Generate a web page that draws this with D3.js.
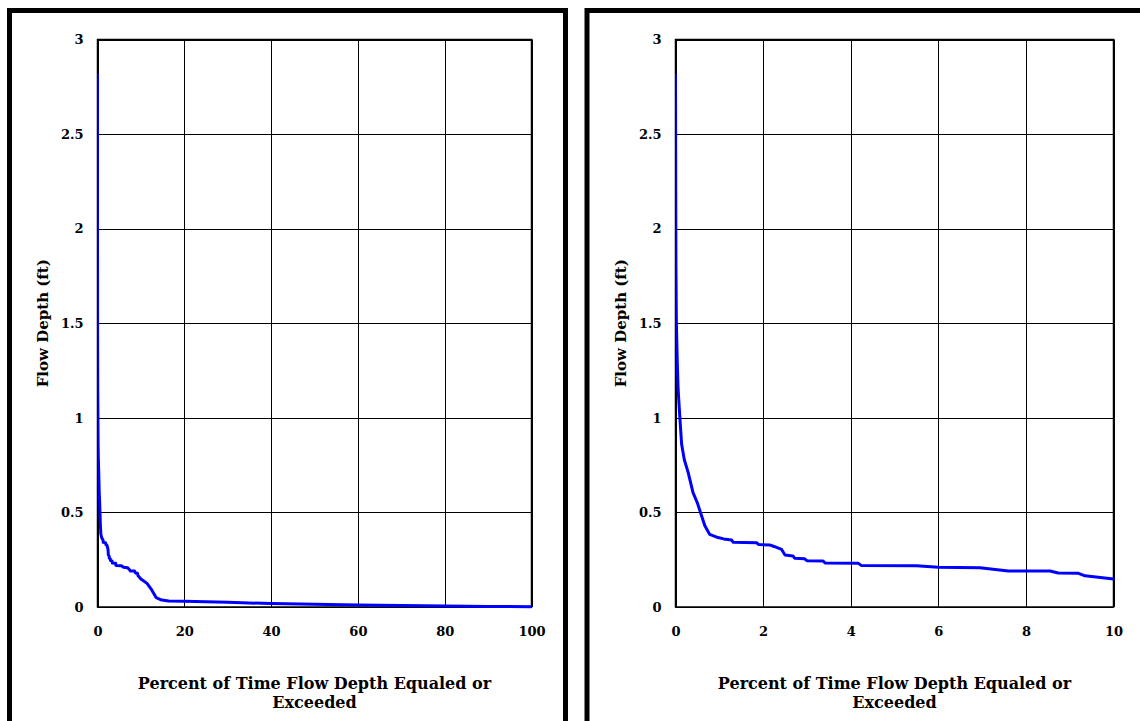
<!DOCTYPE html>
<html>
<head>
<meta charset="utf-8">
<script src="https://cdn.jsdelivr.net/npm/d3@7/dist/d3.min.js"></script>
<style>
  html, body { margin: 0; padding: 0; background: #fff; }
  svg { display: block; }
  text { font-family: "DejaVu Serif", "Liberation Serif", serif; font-weight: bold; fill: #000; }
</style>
</head>
<body>
<script>
// Flow duration data: percent of time exceeded, flow depth (ft)
const percentExceeded = [0, 0.005, 0.01, 0.02, 0.04, 0.06, 0.1, 0.14, 0.2, 0.29, 0.4, 0.5, 0.57, 0.67, 0.78, 0.97, 1.1, 1.28, 1.32, 1.85, 1.9, 2.15, 2.25, 2.42, 2.5, 2.68, 2.72, 2.95, 3.0, 3.37, 3.42, 4.17, 4.24, 5.5, 6.0, 6.95, 7.25, 7.6, 8.55, 8.74, 9.2, 9.35, 10.0, 10.5, 11.4, 12.5, 13.5, 14.8, 16.4, 20, 30, 40, 50, 60, 70, 80, 90, 100];
const flowDepth = [2.82, 2.2, 1.8, 1.5, 1.3, 1.15, 1.0, 0.86, 0.78, 0.71, 0.605, 0.55, 0.5, 0.43, 0.384, 0.367, 0.36, 0.354, 0.342, 0.34, 0.33, 0.328, 0.32, 0.305, 0.275, 0.27, 0.258, 0.255, 0.245, 0.243, 0.232, 0.231, 0.22, 0.218, 0.21, 0.208, 0.2, 0.19, 0.19, 0.18, 0.178, 0.165, 0.148, 0.14, 0.125, 0.09, 0.05, 0.037, 0.032, 0.031, 0.025, 0.018, 0.014, 0.011, 0.008, 0.005, 0.003, 0.001];

const yTicks = [0, 0.5, 1, 1.5, 2, 2.5, 3];
const xTicksLeft = [0, 20, 40, 60, 80, 100];
const xTicksRight = [0, 2, 4, 6, 8, 10];
const yTitle = "Flow Depth (ft)";
const xTitleLines = ["Percent of Time Flow Depth Equaled or", "Exceeded"];

const data = percentExceeded.map((p, i) => ({ p, d: flowDepth[i] }));

const W = 1140, H = 721;
const svg = d3.select("body").append("svg").attr("width", W).attr("height", H);

// panel frames
svg.append("rect").attr("x", 9.5).attr("y", 10.5).attr("width", 556).attr("height", 800)
  .attr("fill", "none").attr("stroke", "#000").attr("stroke-width", 5);
svg.append("rect").attr("x", 587).attr("y", 10.5).attr("width", 600).attr("height", 800)
  .attr("fill", "none").attr("stroke", "#000").attr("stroke-width", 5);

function panel(id, x0, x1, y0, y1, xMax, xTicks) {
  const x = d3.scaleLinear().domain([0, xMax]).range([x0, x1]);
  const y = d3.scaleLinear().domain([0, 3]).range([y1, y0]);
  const g = svg.append("g");

  // gridlines
  g.selectAll(".vg").data(xTicks).join("line")
    .attr("x1", d => Math.round(x(d)) + 0.5).attr("x2", d => Math.round(x(d)) + 0.5)
    .attr("y1", y0).attr("y2", y1).attr("stroke", "#000").attr("stroke-width", 1);
  g.selectAll(".hg").data(yTicks).join("line")
    .attr("y1", d => Math.round(y(d)) + 0.5).attr("y2", d => Math.round(y(d)) + 0.5)
    .attr("x1", x0).attr("x2", x1).attr("stroke", "#000").attr("stroke-width", 1);
  g.append("rect").attr("x", x0).attr("y", y0).attr("width", x1 - x0).attr("height", y1 - y0)
    .attr("fill", "none").attr("stroke", "#000").attr("stroke-width", 1.5);

  // axes (labels only)
  const ax = g.append("g").attr("transform", `translate(0,${y1})`)
    .call(d3.axisBottom(x).tickValues(xTicks).tickSize(0).tickPadding(20).tickFormat(d3.format("d")));
  ax.select(".domain").remove();
  ax.selectAll("text").attr("font-size", 13).attr("font-family", "DejaVu Serif").attr("font-weight", "bold");

  const ay = g.append("g").attr("transform", `translate(${x0},0)`)
    .call(d3.axisLeft(y).tickValues(yTicks).tickSize(0).tickPadding(14).tickFormat(d => d));
  ay.select(".domain").remove();
  ay.selectAll("text").attr("font-size", 13).attr("font-family", "DejaVu Serif").attr("font-weight", "bold");

  // clip
  svg.append("clipPath").attr("id", id).append("rect")
    .attr("x", x0).attr("y", y0 - 2).attr("width", x1 - x0 + 1).attr("height", y1 - y0 + 4);

  const line = d3.line().x(d => x(d.p)).y(d => y(d.d));
  g.append("path").datum(data).attr("d", line).attr("clip-path", `url(#${id})`)
    .attr("fill", "none").attr("stroke", "#0000ff").attr("stroke-width", 3).attr("stroke-linejoin", "round");

  // titles
  const cx = (x0 + x1) / 2;
  g.selectAll(".xt").data(xTitleLines).join("text")
    .attr("x", cx).attr("y", (d, i) => 689 + i * 19)
    .attr("text-anchor", "middle").attr("font-size", 16).text(d => d);
  g.append("text").attr("transform", `translate(${x0 - 50},${(y0 + y1) / 2}) rotate(-90)`)
    .attr("text-anchor", "middle").attr("font-size", 15).text(yTitle);
}

panel("clipL", 97.5, 531.5, 39.5, 607, 100, xTicksLeft);
panel("clipR", 675.5, 1113.5, 39.5, 607, 10, xTicksRight);
</script>
</body>
</html>
